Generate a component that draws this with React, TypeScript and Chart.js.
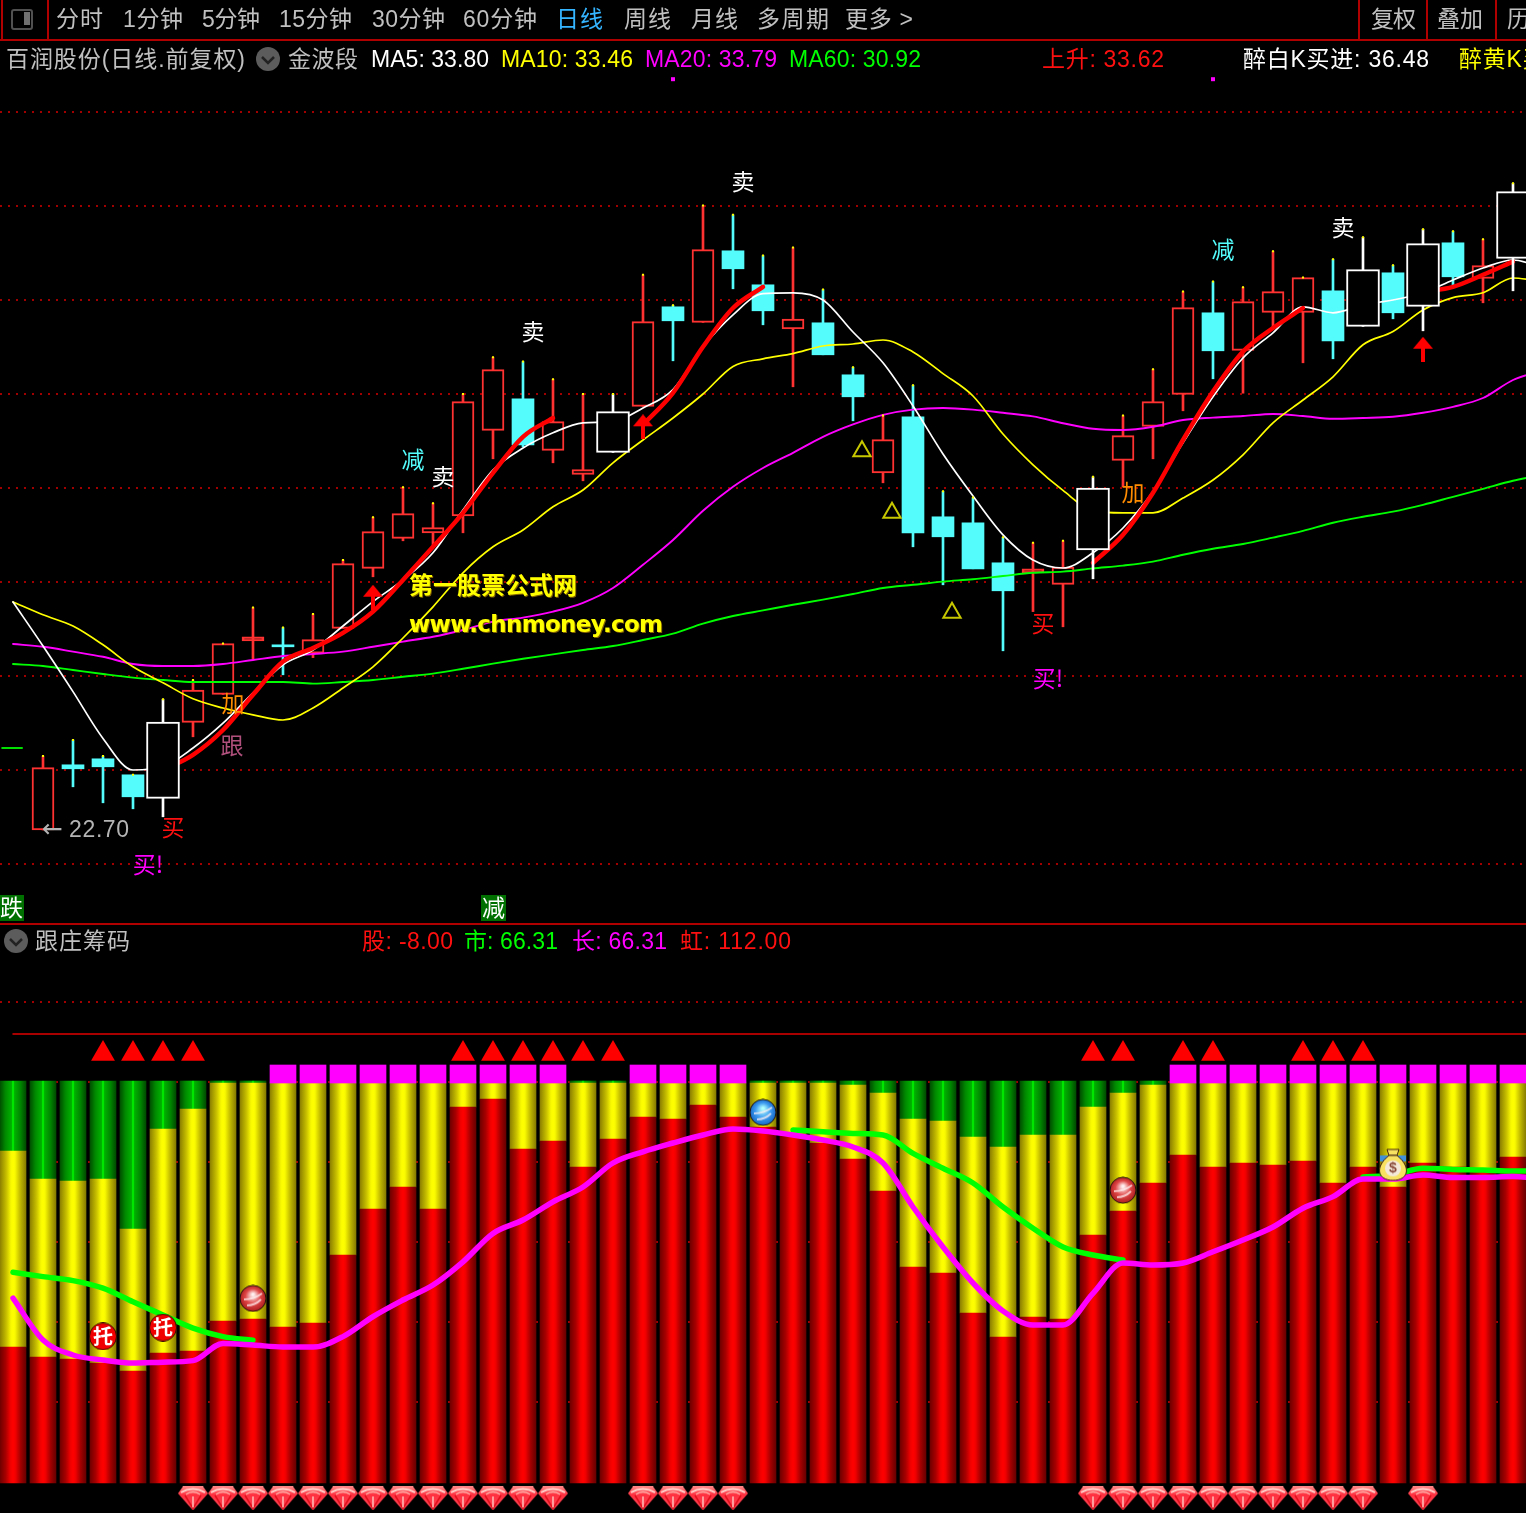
import React, { useEffect, useRef } from 'react';
import { Chart, registerables } from 'chart.js';

Chart.register(...registerables);

// ---------- price panel ----------
const KIND = ['-','r','c','c','c','w','r','r','f','c','r','r','r','r','r','r','r','c','r','r','w','r','c','r','c','c','r','c','c','r','c','c','c','c','f','r','w','r','r','r','c','r','r','r','c','w','c','w','c','r','w'];
const HIGH = [null,24.55,24.95,24.55,24.08,25.97,26.45,27.36,28.26,27.76,28.10,29.45,30.52,31.27,30.87,33.60,34.52,34.41,33.97,33.60,33.60,36.58,35.82,38.31,38.08,37.06,37.26,36.21,34.27,33.06,33.82,31.17,31.01,30.02,29.88,29.93,31.53,33.06,34.22,36.16,36.41,36.27,37.17,36.51,36.97,37.52,36.82,37.72,37.67,37.47,38.87];
const BODY_TOP = [null,24.26,24.33,24.48,24.08,25.40,26.20,27.36,27.53,27.33,27.46,29.36,30.16,30.61,30.26,33.41,34.21,33.48,32.91,31.71,33.16,35.41,35.78,37.21,37.18,36.33,35.47,35.38,34.08,32.46,33.03,30.53,30.38,29.38,29.23,29.27,31.25,32.56,33.41,35.76,35.63,35.91,36.16,36.51,36.18,36.71,36.63,37.36,37.38,36.81,38.66];
const BODY_BOTTOM = [null,22.70,24.23,24.28,23.53,23.49,25.39,26.09,27.43,27.28,27.12,27.74,29.24,29.99,30.13,30.55,32.69,32.33,32.19,31.59,32.14,33.29,35.43,35.39,36.73,35.68,35.23,34.58,33.53,31.63,30.13,30.03,29.23,28.68,29.13,28.84,29.70,31.94,32.79,33.59,34.68,34.69,35.64,35.64,34.93,35.29,35.63,35.79,36.53,36.49,36.99];
const LOW = [null,22.70,23.78,23.38,23.23,23.03,25.03,26.09,26.97,26.58,27.01,27.74,29.03,29.93,29.78,30.13,31.98,32.28,31.88,31.43,32.14,33.29,34.43,35.39,36.23,35.33,33.78,34.58,32.93,31.38,29.78,28.83,29.23,27.18,28.16,27.78,28.98,31.28,31.98,33.18,33.98,33.62,35.28,34.38,34.48,35.29,35.48,35.18,36.33,35.88,36.18];

const MA5 = [28.40,27.30,26.16,24.99,24.20,24.28,24.75,25.37,26.13,26.83,27.20,27.80,28.41,28.95,29.63,30.70,31.70,32.25,32.63,32.88,32.91,33.25,33.71,34.78,35.58,36.11,36.13,35.95,35.15,34.38,33.30,32.10,31.05,30.08,29.45,29.25,29.63,30.25,31.16,32.38,33.53,34.50,35.13,35.78,35.63,35.83,35.95,36.13,36.45,36.75,36.95,36.75];
const MA10 = [28.40,28.08,27.80,27.33,26.78,26.38,25.98,25.75,25.58,25.45,25.75,26.25,26.78,27.50,28.28,29.13,29.78,30.20,30.78,31.20,31.88,32.45,33.00,33.60,34.29,34.48,34.61,34.80,34.85,34.95,34.65,34.11,33.55,32.60,31.83,31.19,30.68,30.63,30.63,31.00,31.45,32.08,32.88,33.45,34.03,34.83,35.16,35.70,36.01,36.13,36.50,36.40];
const MA20 = [27.35,27.28,27.16,27.03,26.85,26.80,26.80,26.85,26.95,27.05,27.10,27.16,27.28,27.41,27.53,27.70,27.91,28.01,28.16,28.38,28.75,29.33,29.95,30.68,31.28,31.75,32.13,32.53,32.84,33.08,33.21,33.25,33.21,33.13,33.04,32.87,32.73,32.70,32.78,32.95,33.01,33.05,33.10,33.05,32.98,33.00,33.03,33.13,33.28,33.50,33.95,34.20];
const MA60 = [26.85,26.80,26.70,26.60,26.51,26.45,26.40,26.40,26.40,26.40,26.36,26.40,26.45,26.53,26.61,26.73,26.86,26.98,27.09,27.20,27.30,27.45,27.61,27.86,28.05,28.19,28.33,28.46,28.60,28.75,28.83,28.91,28.97,29.05,29.13,29.16,29.24,29.31,29.41,29.58,29.73,29.85,30.01,30.18,30.38,30.53,30.66,30.83,31.03,31.23,31.43,31.58];
const RISE = [null,null,null,null,null,24.20,24.58,25.20,26.08,26.91,27.25,27.63,28.16,28.95,29.78,30.63,31.63,32.53,33.00,null,null,32.83,33.63,34.78,35.75,36.28,null,null,null,null,null,null,null,null,null,null,29.38,30.08,31.13,32.45,33.66,34.66,35.25,35.75,null,null,null,36.15,36.28,36.58,36.91];
const PRICE_GRID = [40.65,38.30,35.95,33.60,31.25,28.90,26.55,24.20,21.85];
const BUY_ARROWS = [[12,28.52],[21,32.78],[47,34.72]];
const WARN_TRIANGLES = [[28.3,32.17],[29.3,30.63],[31.3,28.13]];
const TOP_DOTS = [22,40];
const SIGNALS: [string, number, number, string][] = [
  ['卖',24.33,38.93,'#ffffff'],['卖',17.33,35.18,'#ffffff'],['卖',14.33,31.55,'#ffffff'],['卖',44.33,37.78,'#ffffff'],
  ['减',13.33,31.98,'#54fcfc'],['减',40.33,37.23,'#54fcfc'],
  ['加',7.33,25.88,'#ff8c00'],['加',37.33,31.15,'#ff8c00'],
  ['跟',7.3,24.83,'#b0507c'],
  ['买',5.33,22.78,'#ff1010'],['买',34.33,27.88,'#ff1010'],
  ['买!',4.5,21.85,'#ff00ff'],['买!',34.5,26.5,'#ff00ff'],
];

// ---------- chip panel ----------
const RED_TOP = [34,31.5,31,30,28,32.5,33,40.5,41,39,40,57,68.5,74,68.5,94,96,83.5,85.5,79,86,91.5,91,94.5,91.5,89,87,85,81,73,54,52.5,42.5,36.5,41.5,41,62,68,75,82,79,80,79.5,80.5,75,79,74,80,79,78.5,81.5];
const YELLOW_TOP = [83,76,75.5,76,63.5,88.5,93.5,100,100,100,100,100,100,100,100,100,100,100,100,100,100,100,100,100,100,100,100,100,99.5,97.5,91,90.5,86.5,84,87,87,94,97.5,99.5,100,100,100,100,100,100,100,100,100,100,100,100];
const FULL_TOP = 100.5;
const MAGENTA_CAP = 104.5;
const MAGENTA_BARS = [9,10,11,12,13,14,15,16,17,18,21,22,23,24,39,40,41,42,43,44,45,46,47,48,49,50];
const CHIP_MAGENTA = [46.2,35.75,32,30.75,30,30.2,30.6,34.9,34.5,34,34,36.6,41.6,45.75,49.5,55.3,62.4,65.75,70.3,74,80,82.8,85,87,88.5,88,87,85.75,84,80,69,59,50,43,39.5,39.5,47.4,55,54.5,55,57.8,60.75,64,68.7,71.6,76,76,77,76.4,76.4,76.6,76];
const CHIP_GREEN = [52.7,51.6,50.6,48.7,45.3,42,38.7,36.6,35.7,null,null,null,null,null,null,null,null,null,null,null,null,null,null,null,null,null,88.25,87.8,87.4,87,82.4,78.7,75,69,63.7,59,57,55.75,null,null,null,null,null,null,null,76.5,77,78.7,78.4,78.25,78,78];
const HONG = 112;
const CHIP_GRID = [20,40,60,80,100,120];
const UP_TRIANGLES = [3,4,5,6,15,16,17,18,19,20,36,37,39,40,43,44,45];
const GEMS = [6,7,8,9,10,11,12,13,14,15,16,17,18,21,22,23,24,36,37,38,39,40,41,42,43,44,45,47];
const RED_BALLS = [[8,45.9],[37,72.95]];
const BLUE_BALLS = [[25,92.4]];
const MONEY_BAGS = [[46,79.4]];
const TUO: [number, number][] = [[3,36.4],[5,38.6]];

// ---------- layout of the frame ----------
const W = 1526, H = 1513;
const CJK = '"Liberation Sans","Noto Sans CJK SC"';
const MENU = [['分时',56,47],['1分钟',123,60],['5分钟',202,58],['15分钟',279,73],['30分钟',372,73],['60分钟',463,74],['日线',556,47,'#35b4ff'],['周线',624,47],['月线',691,47],['多周期',757,72],['更多 >',845,68],['复权',1371,45],['叠加',1437,46],['历史',1507,46]];
const LEGEND_1 = [['百润股份(日线.前复权)',6,239,'#c0c0c0'],['金波段',288,70,'#c0c0c0'],['MA5: 33.80',371,118,'#ffffff'],['MA10: 33.46',501,132,'#ffff00'],['MA20: 33.79',645,132,'#ff00ff'],['MA60: 30.92',789,132,'#00ff00'],['上升: 33.62',1042,122,'#ff1010'],['醉白K买进: 36.48',1243,186,'#ffffff'],['醉黄K买进: 36.48',1459,186,'#ffff00']];
const LEGEND_2 = [['跟庄筹码',35,95,'#c0c0c0'],['股: -8.00',362,91,'#ff1010'],['市: 66.31',464,94,'#00ff00'],['长: 66.31',572,95,'#ff00ff'],['虹: 112.00',680,111,'#ff1010']];
const SEPARATORS = [47,1358,1426,1495];

const measureCtx = document.createElement('canvas').getContext('2d')!;
function Run({ text, x, y, w, color, font = CJK, size = 23, weight = 400, shadow }: any) {
  const f = `${weight} ${size}px ${font}`;
  measureCtx.font = f;
  const m = measureCtx.measureText(text).width;
  const ls = text.length > 1 ? (w - m) / (text.length - 1) : 0;
  return (
    <span style={{ position: 'absolute', left: x, top: y - 16, whiteSpace: 'pre', color, font: f, lineHeight: '32px', letterSpacing: ls, textShadow: shadow } as any}>{text}</span>
  );
}

function Fold({ x, y }: { x: number; y: number }) {
  return (
    <svg width={24} height={24} style={{ position: 'absolute', left: x - 12, top: y - 12 }}>
      <circle cx={12} cy={12} r={12} fill="#5c5c5c" />
      <path d="M6 10 L12 16 L18 10" stroke="#222" strokeWidth={2.5} fill="none" />
    </svg>
  );
}

// ---------- pictures used as point styles ----------
function pic(w: number, h: number, draw: (c: CanvasRenderingContext2D) => void) {
  const cv = document.createElement('canvas');
  cv.width = w; cv.height = h;
  draw(cv.getContext('2d')!);
  return cv;
}
const gemPic = () => pic(30, 24, (c) => {
  const g = c.createLinearGradient(0, 0, 0, 24);
  g.addColorStop(0, '#ff8a8a'); g.addColorStop(0.35, '#ff3040'); g.addColorStop(1, '#ff4a58');
  c.fillStyle = g;
  c.beginPath(); c.moveTo(5, 0); c.lineTo(25, 0); c.lineTo(30, 7); c.lineTo(15, 24); c.lineTo(0, 7); c.closePath(); c.fill();
  c.strokeStyle = '#ffd8d0'; c.lineWidth = 2;
  c.beginPath(); c.moveTo(3, 6); c.quadraticCurveTo(15, -1, 27, 6); c.stroke();
  c.strokeStyle = '#ffb0a8'; c.lineWidth = 1.5;
  c.beginPath(); c.moveTo(8, 8); c.quadraticCurveTo(15, 3, 22, 8); c.stroke();
  c.strokeStyle = '#e0101c'; c.lineWidth = 1.5;
  c.beginPath(); c.moveTo(7, 9); c.lineTo(15, 22); c.lineTo(23, 9); c.stroke();
  c.strokeStyle = '#ffc0b8'; c.beginPath(); c.moveTo(15, 10); c.lineTo(15, 21); c.stroke();
});
const ballPic = (edge: string, mid: string, glow: string) => pic(28, 28, (c) => {
  const g = c.createRadialGradient(14, 10, 1, 14, 14, 14);
  g.addColorStop(0, glow); g.addColorStop(0.5, mid); g.addColorStop(1, edge);
  c.fillStyle = g;
  c.beginPath(); c.arc(14, 14, 13, 0, Math.PI * 2); c.fill();
  c.strokeStyle = '#201010'; c.lineWidth = 1; c.stroke();
  c.strokeStyle = 'rgba(255,240,240,.75)'; c.lineWidth = 2;
  c.beginPath(); c.moveTo(5, 15); c.quadraticCurveTo(15, 15, 23, 9); c.moveTo(8, 21); c.quadraticCurveTo(16, 21, 22, 15); c.stroke();
});
const bagPic = () => pic(30, 34, (c) => {
  c.fillStyle = '#3f90d8'; c.fillRect(2, 8, 26, 6);
  c.fillStyle = '#f8e060'; c.strokeStyle = '#402010'; c.lineWidth = 1;
  c.beginPath(); c.moveTo(9, 2); c.lineTo(21, 2); c.lineTo(19, 8); c.lineTo(11, 8); c.closePath(); c.fill(); c.stroke();
  c.beginPath(); c.moveTo(11, 8); c.bezierCurveTo(-4, 20, 0, 33, 15, 33); c.bezierCurveTo(30, 33, 34, 20, 19, 8); c.closePath(); c.fill(); c.stroke();
  c.fillStyle = '#f4e8d8'; c.beginPath(); c.ellipse(15, 21, 8, 8, 0, 0, Math.PI * 2); c.fill();
  c.fillStyle = '#8a4a3a'; c.font = 'bold 14px "Liberation Sans"'; c.textAlign = 'center'; c.textBaseline = 'middle'; c.fillText('$', 15, 21);
});
const arrowPic = () => pic(20, 25, (c) => {
  c.fillStyle = '#ff0000';
  c.beginPath(); c.moveTo(10, 0); c.lineTo(20, 12); c.lineTo(0, 12); c.closePath(); c.fill();
  c.fillRect(8, 12, 4, 13);
});
const tuoPic = () => pic(28, 28, (c) => {
  c.fillStyle = '#f00000'; c.strokeStyle = '#301000'; c.lineWidth = 1;
  c.beginPath(); c.arc(14, 14, 13.5, 0, Math.PI * 2); c.fill(); c.stroke();
});

// ---------- helpers that turn the arrays into datasets ----------
const pts = (arr: (number | null)[], shift = 0) => arr.map((y, x) => ({ x, y: y === null ? null : y - shift }));
const pairs = (arr: number[][]) => arr.map(([x, y]) => ({ x, y }));
const CHIP_SHIFT = 0.25;

const RED_STOPS: [number, string][] = [[0, '#700000'], [0.22, '#a80000'], [0.4, '#f00000'], [0.5, '#ff0000'], [0.6, '#f00000'], [0.8, '#a00000'], [1, '#680000']];
const YELLOW_STOPS: [number, string][] = [[0, '#8c8000'], [0.25, '#c8c000'], [0.42, '#f8f800'], [0.5, '#ffff00'], [0.58, '#f8f800'], [0.78, '#c0b800'], [1, '#887c00']];
const GREEN_STOPS: [number, string][] = [[0, '#005000'], [0.22, '#008c00'], [0.44, '#00b000'], [0.5, '#00ff00'], [0.56, '#00b000'], [0.78, '#008800'], [1, '#004c00']];

const candleIdx = (test: (k: string) => boolean) => KIND.map((k, i) => (test(k) ? i : -1)).filter((i) => i >= 0);
const wickData = (ids: number[]) => ids.map((i) => ({ x: i, y: [LOW[i], HIGH[i]] }));
const bodyData = (ids: number[]) => ids.map((i) => ({ x: i, y: [BODY_BOTTOM[i], BODY_TOP[i]] }));

const floatBar = (data: any[], thick: number, order: number, yAxisID: string, extra: any) => ({
  type: 'bar', data, barThickness: thick, grouped: false, order, yAxisID, xAxisID: 'x', borderWidth: 0, borderSkipped: false, ...extra,
});
const line = (data: any[], color: string, width: number, order: number, yAxisID: string) => ({
  type: 'line', data, borderColor: color, backgroundColor: color, borderWidth: width, pointRadius: 0, cubicInterpolationMode: 'monotone', fill: false,
  spanGaps: false, order, yAxisID, xAxisID: 'x', borderCapStyle: 'round', borderJoinStyle: 'round',
});
const marks = (data: any[], style: any, radius: number, order: number, yAxisID: string, color = '#ff0000', extra: any = {}) => ({
  type: 'scatter', data, pointStyle: style, pointRadius: radius, pointBackgroundColor: color, pointBorderWidth: 0, showLine: false,
  order, yAxisID, xAxisID: 'x', ...extra,
});

// gives each chip bar its own left-to-right shading, from where the library placed it
const cylinderBars = {
  id: 'cylinderBars',
  beforeDatasetDraw(chart: any, args: any) {
    const stops = chart.data.datasets[args.index].stops;
    if (!stops) return;
    args.meta.data.forEach((el: any) => {
      const half = el.width / 2;
      const g = chart.ctx.createLinearGradient(el.x - half, 0, el.x + half, 0);
      stops.forEach(([o, c]: [number, string]) => g.addColorStop(o, c));
      el.options = { ...el.options, backgroundColor: g };
    });
  },
};

const signalText = {
  id: 'signalText',
  afterDatasetsDraw(chart: any) {
    const { ctx, scales } = chart;
    ctx.save();
    ctx.textBaseline = 'middle';
    ctx.textAlign = 'center';
    ctx.font = `23px "Noto Sans CJK SC"`;
    SIGNALS.forEach(([t, i, p, color]) => {
      ctx.fillStyle = color;
      ctx.fillText(t, scales.x.getPixelForValue(i), scales.y.getPixelForValue(p));
    });
    ctx.fillStyle = '#ffffff';
    ctx.font = `bold 20px "Noto Sans CJK SC"`;
    TUO.forEach(([i, v]) => ctx.fillText('托', scales.x.getPixelForValue(i), scales.y2.getPixelForValue(v)));
    ctx.fillStyle = '#b4b4b4';
    ctx.textAlign = 'left';
    const ly = scales.y.getPixelForValue(22.7);
    ctx.font = `25px "DejaVu Sans"`;
    ctx.fillText('←', scales.x.getPixelForValue(0.97), ly);
    ctx.font = `23px "Liberation Sans"`;
    ctx.letterSpacing = '0.6px';
    ctx.fillText('22.70', scales.x.getPixelForValue(1.87), ly + 1);
    ctx.restore();
  },
};

const gridAxis = (min: number, max: number, ticks: number[]) => ({
  type: 'linear', min, max, position: 'left',
  afterBuildTicks: (s: any) => { s.ticks = ticks.map((value) => ({ value })); },
  afterFit: (s: any) => { s.width = 0; },
  ticks: { display: false },
  border: { display: false, dash: [2, 6] },
  grid: { color: '#a00000', lineWidth: 2, drawTicks: false },
});

export default function App() {
  const ref = useRef<HTMLCanvasElement>(null);
  useEffect(() => {
    document.body.style.background = '#000';
    const red = candleIdx((k) => k === 'r' || k === 'f');
    const cyan = candleIdx((k) => k === 'c');
    const white = candleIdx((k) => k === 'w');
    const all = KIND.map((_, i) => i);
    const shiftedBar = (lo: (i: number) => number, hi: (i: number) => number, ids = all) =>
      ids.map((i) => ({ x: i, y: [lo(i) - CHIP_SHIFT, hi(i) - CHIP_SHIFT] }));

    const chart = new Chart(ref.current!, {
      type: 'bar',
      data: {
        datasets: [
          // chip bars
          floatBar(shiftedBar(() => 0, (i) => RED_TOP[i]), 26, 100, 'y2', { backgroundColor: '#ff0000', stops: RED_STOPS }),
          floatBar(shiftedBar((i) => RED_TOP[i], (i) => YELLOW_TOP[i]), 26, 100, 'y2', { backgroundColor: '#ffff00', stops: YELLOW_STOPS }),
          floatBar(shiftedBar((i) => YELLOW_TOP[i], () => FULL_TOP), 26, 100, 'y2', { backgroundColor: '#00a000', stops: GREEN_STOPS }),
          floatBar(shiftedBar(() => 100, () => MAGENTA_CAP, MAGENTA_BARS), 26, 99, 'y2', { backgroundColor: '#ff00ff' }),
          line(pts(CHIP_GREEN, CHIP_SHIFT), '#00ff00', 5.5, 91, 'y2'),
          line(pts(CHIP_MAGENTA, CHIP_SHIFT), '#ff00ff', 5.5, 90, 'y2'),
          line([{ x: 0, y: HONG }, { x: 51, y: HONG }], '#e00000', 1.5, 92, 'y2'),
          marks(UP_TRIANGLES.map((x) => ({ x, y: 107.05 })), 'triangle', 13.8, 89, 'y2'),
          marks(GEMS.map((x) => ({ x, y: -4.1 })), gemPic(), 10, 88, 'y2'),
          marks(pairs(RED_BALLS), ballPic('#a81818', '#e04848', '#fff0f0'), 10, 87, 'y2'),
          marks(pairs(BLUE_BALLS), ballPic('#1060c0', '#3f9cf0', '#b0ffff'), 10, 87, 'y2'),
          marks(pairs(MONEY_BAGS), bagPic(), 10, 87, 'y2'),
          marks(pairs(TUO), tuoPic(), 10, 87, 'y2'),
          // candles: coloured ones lie under the averages, white ones above them
          floatBar(wickData(red), 2, 62, 'y', { backgroundColor: '#ff3232' }),
          floatBar(bodyData(red), 22, 61, 'y', {
            backgroundColor: (c: any) => (c.raw && KIND[c.raw.x] === 'f' ? '#ff3232' : '#000000'),
            borderColor: '#ff3232', borderWidth: 2,
          }),
          floatBar(wickData(cyan), 2, 60, 'y', { backgroundColor: '#54fcfc' }),
          floatBar(bodyData(cyan), 22, 59, 'y', { backgroundColor: '#54fcfc' }),
          line(pts(MA60), '#00ff00', 1.9, 35, 'y'),
          line(pts(MA20), '#ff00ff', 1.9, 34, 'y'),
          line(pts(MA10), '#ffff00', 1.7, 33, 'y'),
          line(pts(MA5), '#ffffff', 1.7, 32, 'y'),
          line(pts(RISE), '#ff0000', 4.5, 31, 'y'),
          floatBar(wickData(white), 2, 22, 'y', { backgroundColor: '#ffffff' }),
          floatBar(bodyData(white), 33, 21, 'y', { backgroundColor: '#000000', borderColor: '#ffffff', borderWidth: 2 }),
          marks(KIND.map((k, i) => ({ x: i, y: HIGH[i] })).filter((p) => p.y !== null), 'rect', 1.41, 20, 'y', '#ffff00'),
          marks(pairs(BUY_ARROWS), arrowPic(), 10, 19, 'y'),
          marks(pairs(WARN_TRIANGLES), 'triangle', 10, 19, 'y', 'rgba(0,0,0,0)', { pointBorderWidth: 2, pointBorderColor: '#c8c800' }),
          marks(TOP_DOTS.map((x) => ({ x, y: 41.47 })), 'rect', 2.83, 19, 'y', '#ff00ff'),
          line([{ x: -0.36, y: 24.75 }, { x: 0.3, y: 24.75 }], '#00e000', 2, 30, 'y'),
        ] as any,
      },
      options: {
        responsive: false,
        animation: false,
        devicePixelRatio: 1,
        events: [],
        layout: { padding: 0, autoPadding: false },
        plugins: { legend: { display: false }, tooltip: { enabled: false } },
        scales: {
          x: { type: 'linear', display: false, offset: false, min: -13 / 30, max: 1513 / 30 },
          y: gridAxis(5.625, 43.45, PRICE_GRID),
          y2: gridAxis(-7.75, 370.5, CHIP_GRID),
        },
      } as any,
      plugins: [cylinderBars, signalText],
    });
    return () => chart.destroy();
  }, []);

  return (
    <div style={{ position: 'fixed', left: 0, top: 0, width: W, height: H, overflow: 'hidden', background: '#000' }}>
      <canvas ref={ref} width={W} height={H} style={{ display: 'block', width: W, height: H }} />
      <div style={{ position: 'absolute', left: 0, top: 39, width: W, height: 2, background: '#b00000' }} />
      <div style={{ position: 'absolute', left: 0, top: 923, width: W, height: 2, background: '#b00000' }} />
      <div style={{ position: 'absolute', left: 1, top: 0, width: 2, height: 40, background: '#b00000' }} />
      {SEPARATORS.map((x) => (
        <div key={x} style={{ position: 'absolute', left: x, top: 0, width: 2, height: 40, background: '#b00000' }} />
      ))}
      <div style={{ position: 'absolute', left: 11, top: 9, width: 18, height: 17, border: '2px solid #505050', borderRadius: 3 }}>
        <div style={{ position: 'absolute', right: 1, top: 1, width: 6, height: 13, background: '#707070' }} />
      </div>
      {MENU.map(([t, x, w, c]: any) => (
        <Run key={t} text={t} x={x} y={19} w={w} color={c || '#c0c0c0'} />
      ))}
      {LEGEND_1.map(([t, x, w, c]: any) => (
        <Run key={t} text={t} x={x} y={59} w={w} color={c} />
      ))}
      <Fold x={268} y={59} />
      <Fold x={16} y={941} />
      {LEGEND_2.map(([t, x, w, c]: any) => (
        <Run key={t} text={t} x={x} y={941} w={w} color={c} />
      ))}
      <div style={{ position: 'absolute', left: 0, top: 895, width: 24, height: 26, background: '#007000' }} />
      <div style={{ position: 'absolute', left: 481, top: 895, width: 25, height: 26, background: '#007000' }} />
      <Run text="跌" x={0} y={908} w={24} color="#ffffff" />
      <Run text="减" x={482} y={908} w={24} color="#ffffff" />
      <Run text="第一股票公式网" x={409} y={584} w={168} color="#ffff00" font='"Noto Sans CJK SC"' size={24} weight={700} shadow="1px 1px 0 #806000" />
      <Run text="www.chnmoney.com" x={409} y={624} w={254} color="#ffff00" font='"DejaVu Sans"' size={23} weight={700} shadow="1px 1px 0 #806000" />
    </div>
  );
}
